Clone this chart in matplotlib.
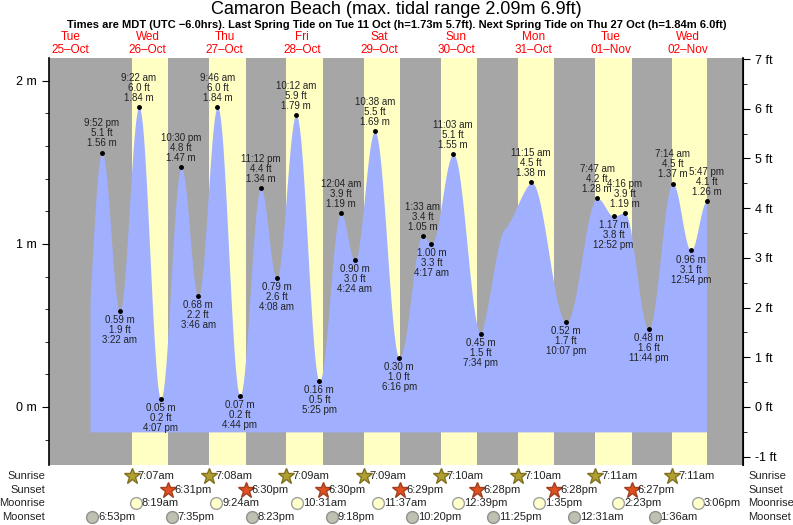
import numpy as np
import matplotlib.pyplot as plt
from matplotlib.ticker import MultipleLocator

plt.rcParams['font.family'] = 'Liberation Sans'

# hours from Tue 25-Oct 00:00 (MDT)
tide_hours = [15.4, 21.87, 27.37, 33.37, 40.12, 46.5, 51.77, 57.77, 64.73, 71.2, 76.13,
              82.2, 89.42, 96.07, 100.4, 106.63, 114.27, 121.55, 124.28, 131.05,
              139.57, 146.5, 155.25, 166.12, 175.78, 180.87, 184.27, 191.73,
              199.23, 204.9, 209.78]
tide_m = [0.10, 1.56, 0.59, 1.84, 0.05, 1.47, 0.68, 1.84, 0.07, 1.34, 0.79,
          1.79, 0.16, 1.19, 0.90, 1.69, 0.30, 1.05, 1.00, 1.55,
          0.45, 1.08, 1.38, 0.52, 1.28, 1.17, 1.19, 0.48,
          1.37, 0.96, 1.26]
tide_kind = ['x', 'H', 'L', 'H', 'L', 'H', 'L', 'H', 'L', 'H', 'L',
             'H', 'L', 'H', 'L', 'H', 'L', 'H', 'L', 'H',
             'L', 'x', 'H', 'L', 'H', 'L', 'H', 'L',
             'H', 'L', 'H']
tide_time = ['', '9:52 pm', '3:22 am', '9:22 am', '4:07 pm', '10:30 pm', '3:46 am', '9:46 am',
             '4:44 pm', '11:12 pm', '4:08 am', '10:12 am', '5:25 pm', '12:04 am', '4:24 am',
             '10:38 am', '6:16 pm', '1:33 am', '4:17 am', '11:03 am', '7:34 pm', '',
             '11:15 am', '10:07 pm', '7:47 am', '12:52 pm', '4:16 pm', '11:44 pm',
             '7:14 am', '12:54 pm', '5:47 pm']
data_start = 18.1

days = ['Tue\n25\u2013Oct', 'Wed\n26\u2013Oct', 'Thu\n27\u2013Oct', 'Fri\n28\u2013Oct',
        'Sat\n29\u2013Oct', 'Sun\n30\u2013Oct', 'Mon\n31\u2013Oct', 'Tue\n01\u2013Nov',
        'Wed\n02\u2013Nov']

sunrise_h = [24 + 7 + 7/60, 48 + 7 + 8/60, 72 + 7 + 9/60, 96 + 7 + 9/60,
             120 + 7 + 10/60, 144 + 7 + 10/60, 168 + 7 + 11/60, 192 + 7 + 11/60]
sunrise_lbl = ['7:07am', '7:08am', '7:09am', '7:09am', '7:10am', '7:10am', '7:11am', '7:11am']
sunset_h = [24 + 18 + 31/60, 48 + 18 + 30/60, 72 + 18 + 30/60, 96 + 18 + 29/60,
            120 + 18 + 28/60, 144 + 18 + 28/60, 168 + 18 + 27/60]
sunset_lbl = ['6:31pm', '6:30pm', '6:30pm', '6:29pm', '6:28pm', '6:28pm', '6:27pm']
moonrise_h = [24 + 8 + 19/60, 48 + 9 + 24/60, 72 + 10 + 31/60, 96 + 11 + 37/60,
              120 + 12 + 39/60, 144 + 13 + 35/60, 168 + 14 + 23/60, 192 + 15 + 6/60]
moonrise_lbl = ['8:19am', '9:24am', '10:31am', '11:37am', '12:39pm', '1:35pm', '2:23pm', '3:06pm']
moonset_h = [18 + 53/60, 24 + 19 + 35/60, 48 + 20 + 23/60, 72 + 21 + 18/60,
             96 + 22 + 20/60, 120 + 23 + 25/60, 168 + 0 + 31/60, 192 + 1 + 36/60]
moonset_lbl = ['6:53pm', '7:35pm', '8:23pm', '9:18pm', '10:20pm', '11:25pm', '12:31am', '1:36am']

t0, t1 = 5.4, 221.1
ymin, ymax = -0.356, 2.14
base = -0.153

fig = plt.figure(figsize=(7.93, 5.25), dpi=100)
ax = fig.add_axes([49/793, 1 - 465/525, (743 - 49)/793, (465 - 58)/525])
ax.set_xlim(t0, t1)
ax.set_ylim(ymin, ymax)
ax.set_facecolor('#a6a6a6')

# daylight bands
t_end = tide_hours[-1]
for i, sr in enumerate(sunrise_h):
    ss = sunset_h[i] if i < len(sunset_h) else t_end
    ax.axvspan(sr, min(ss, t_end), color='#ffffc4', lw=0, zorder=0)

# tide curve: cosine between consecutive points (shoulder point uses a softer blend)
tt, hh = [], []
for i in range(len(tide_hours) - 1):
    a, b = tide_hours[i], tide_hours[i + 1]
    s = np.linspace(0, 1, 60)
    w = (1 - np.cos(np.pi * s)) / 2
    if tide_kind[i] == 'x' and i > 0:
        w = 0.5 * s + 0.5 * w
    elif tide_kind[i + 1] == 'x':
        w = 0.5 * s + 0.5 * w
    tt.append(a + (b - a) * s)
    hh.append(tide_m[i] + (tide_m[i + 1] - tide_m[i]) * w)
tt = np.concatenate(tt)
hh = np.concatenate(hh)
m = tt >= data_start
ax.fill_between(tt[m], base, hh[m], color='#a0b0ff', lw=0, zorder=1)

for t, h, k, lab in zip(tide_hours, tide_m, tide_kind, tide_time):
    if k == 'x':
        continue
    ax.plot(t, h, 'o', color='black', ms=2.5, zorder=3)
    ft = h / 0.3048
    if k == 'H':
        txt = f'{lab}\n{ft:.1f} ft\n{h:.2f} m'
        ax.annotate(txt, (t, h), xytext=(0, 3), textcoords='offset points',
                    ha='center', va='bottom', fontsize=7, color='#222222',
                    linespacing=1.0, zorder=4)
    else:
        txt = f'{h:.2f} m\n{ft:.1f} ft\n{lab}'
        ax.annotate(txt, (t, h), xytext=(0, -3), textcoords='offset points',
                    ha='center', va='top', fontsize=7, color='#222222',
                    linespacing=1.0, zorder=4)

ax.set_xticks([])
ax.yaxis.set_minor_locator(MultipleLocator(0.2))
ax.set_yticks([0, 1, 2])
ax.set_yticklabels(['0 m', '1 m', '2 m'], fontsize=9)
ax.tick_params(axis='y', which='major', length=5)
ax.tick_params(axis='y', which='minor', length=3)
for s in ['top', 'bottom']:
    ax.spines[s].set_visible(False)
ax.spines['left'].set_linewidth(1.2)

ax2 = ax.twinx()
ax2.set_ylim(ymin / 0.3048, ymax / 0.3048)
ax2.set_yticks(range(-1, 8))
ax2.set_yticklabels([f'{v} ft' for v in range(-1, 8)], fontsize=9)
ax2.yaxis.set_minor_locator(MultipleLocator(0.5))
ax2.tick_params(axis='y', which='major', length=5)
ax2.tick_params(axis='y', which='minor', length=3)
for s in ['top', 'bottom', 'left']:
    ax2.spines[s].set_visible(False)
ax2.spines['right'].set_linewidth(1.2)

# day labels at noon
for i, d in enumerate(days):
    ax.text(i * 24 + 12, ymax + 0.015, d, ha='center', va='bottom', color='red',
            fontsize=8.5, linespacing=1.05, clip_on=False)

fig.text(0.5, 1 - 10/525, 'Camaron Beach (max. tidal range 2.09m 6.9ft)', ha='center',
         va='center', fontsize=13)
fig.text(0.5, 1 - 25/525, 'Times are MDT (UTC \u22126.0hrs). Last Spring Tide on Tue 11 Oct '
         '(h=1.73m 5.7ft). Next Spring Tide on Thu 27 Oct (h=1.84m 6.0ft)',
         ha='center', va='center', fontsize=8, fontweight='bold')

# sun & moon rows
rows = [('Sunrise', 476, sunrise_h, sunrise_lbl, dict(marker='*', ms=12, mfc='#b0a030', mec='#807020')),
        ('Sunset', 490, sunset_h, sunset_lbl, dict(marker='*', ms=12, mfc='#e05020', mec='#a04020')),
        ('Moonrise', 503, moonrise_h, moonrise_lbl, dict(marker='o', ms=8.5, mfc='#ffffcc', mec='#a0a0a0')),
        ('Moonset', 517, moonset_h, moonset_lbl, dict(marker='o', ms=8.5, mfc='#c0c0b0', mec='#909090'))]
xscale = lambda t: (49 + (t - t0) / (t1 - t0) * (743 - 49)) / 793
for name, ypx, hrs, lbls, st in rows:
    yf = 1 - ypx / 525
    fig.text(45/793, yf, name, ha='right', va='center', fontsize=8, color='#222222')
    fig.text(748/793, yf, name, ha='left', va='center', fontsize=8, color='#222222')
    for h, l in zip(hrs, lbls):
        x = xscale(h)
        fig.lines.append(plt.Line2D([x], [yf], transform=fig.transFigure, lw=0, **st))
        fig.text(x + 6/793, yf, l, ha='left', va='center', fontsize=8, color='#222222')

fig.savefig('out.png', dpi=100)
